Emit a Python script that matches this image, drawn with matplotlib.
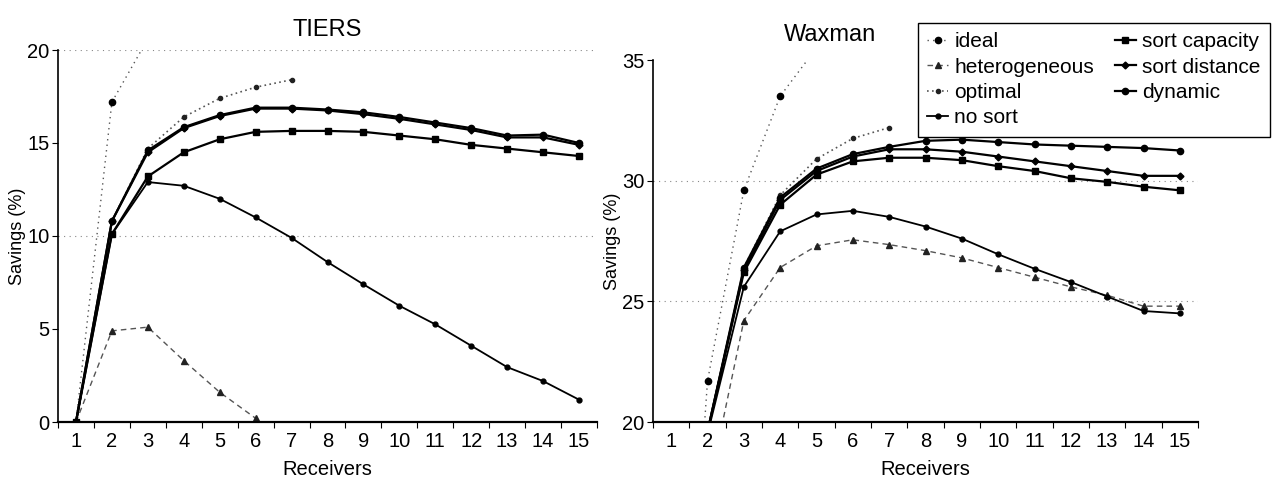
import matplotlib.pyplot as plt
import numpy as np

plt.rcParams['font.family'] = ['Liberation Sans', 'DejaVu Sans']

receivers = np.arange(1, 16)

# TIERS
t_ideal = [0, 17.2, 20.6]
t_hetero = [0, 4.9, 5.1, 3.3, 1.6, 0.2]
t_optimal = [0, 10.8, 14.7, 16.4, 17.4, 18.0, 18.4]
t_nosort = [0, 10.1, 12.9, 12.7, 12.0, 11.0, 9.9, 8.6, 7.4, 6.25, 5.25, 4.1, 2.95, 2.2, 1.2]
t_capacity = [0, 10.1, 13.2, 14.5, 15.2, 15.6, 15.65, 15.65, 15.6, 15.4, 15.2, 14.9, 14.7, 14.5, 14.3]
t_distance = [0, 10.8, 14.5, 15.8, 16.45, 16.85, 16.85, 16.75, 16.55, 16.3, 16.0, 15.7, 15.3, 15.3, 14.9]
t_dynamic = [0, 10.8, 14.6, 15.85, 16.5, 16.9, 16.9, 16.8, 16.65, 16.4, 16.1, 15.8, 15.4, 15.45, 15.0]

# Waxman
w_ideal = [0, 21.7, 29.6, 33.5, 35.5]
w_hetero = [0, 17.0, 24.2, 26.4, 27.3, 27.55, 27.35, 27.1, 26.8, 26.4, 26.0, 25.6, 25.25, 24.8, 24.8]
w_optimal = [0, 19.5, 26.4, 29.4, 30.9, 31.75, 32.2]
w_nosort = [0, 19.5, 25.6, 27.9, 28.6, 28.75, 28.5, 28.1, 27.6, 26.95, 26.35, 25.8, 25.2, 24.6, 24.5]
w_capacity = [0, 19.6, 26.2, 29.0, 30.25, 30.8, 30.95, 30.95, 30.85, 30.6, 30.4, 30.1, 29.95, 29.75, 29.6]
w_distance = [0, 19.6, 26.3, 29.2, 30.4, 31.0, 31.3, 31.3, 31.2, 31.0, 30.8, 30.6, 30.4, 30.2, 30.2]
w_dynamic = [0, 19.6, 26.4, 29.3, 30.5, 31.1, 31.4, 31.65, 31.7, 31.6, 31.5, 31.45, 31.4, 31.35, 31.25]

labels = ['ideal', 'heterogeneous', 'optimal', 'no sort',
          'sort capacity', 'sort distance', 'dynamic']

styles = {
    'ideal': dict(color='#555555', ls=(0, (1, 3)), lw=1.0, marker='o', ms=4.5, mfc='black', mec='black'),
    'heterogeneous': dict(color='#555555', ls=(0, (4, 3)), lw=1.0, marker='^', ms=4, mfc='#222222', mec='#222222'),
    'optimal': dict(color='#555555', ls=(0, (1, 2)), lw=1.2, marker='o', ms=3, mfc='#222222', mec='#222222'),
    'no sort': dict(color='black', ls='-', lw=1.3, marker='o', ms=3.5),
    'sort capacity': dict(color='black', ls='-', lw=1.6, marker='s', ms=4),
    'sort distance': dict(color='black', ls='-', lw=1.6, marker='D', ms=3.5),
    'dynamic': dict(color='black', ls='-', lw=1.6, marker='o', ms=4.5),
}

fig = plt.figure(figsize=(12.75, 4.83), dpi=100)
ax1 = fig.add_axes([58 / 1275, 1 - 422 / 483, 539 / 1275, 372 / 483])
ax2 = fig.add_axes([653 / 1275, 1 - 422 / 483, 545 / 1275, 362 / 483])

panels = [
    (ax1, [t_ideal, t_hetero, t_optimal, t_nosort, t_capacity, t_distance, t_dynamic],
     (0, 20), [0, 5, 10, 15, 20], (0.53, 15.47), [10, 20]),
    (ax2, [w_ideal, w_hetero, w_optimal, w_nosort, w_capacity, w_distance, w_dynamic],
     (20, 35), [20, 25, 30, 35], (0.73, 15.5), [25, 30]),
]

handles = []
for ax, series, ylim, yticks, xlim, grid in panels:
    for g in grid:
        ax.axhline(g, color='#888888', lw=0.8, ls=(0, (1, 4)), zorder=0)
    hs = []
    for name, vals in zip(labels, series):
        h, = ax.plot(receivers[:len(vals)], vals, label=name, **styles[name])
        hs.append(h)
    handles = hs
    ax.set_ylim(*ylim)
    ax.set_xlim(*xlim)
    ax.set_yticks(yticks)
    ax.set_xticks(np.arange(0.5, 16, 1))
    ax.set_xticklabels([])
    ax.set_xticks(receivers, minor=True)
    ax.set_xticklabels([str(r) for r in receivers], minor=True)
    ax.tick_params(axis='x', which='major', length=4, direction='out')
    ax.tick_params(axis='x', which='minor', length=0, labelsize=14.5, pad=7)
    ax.tick_params(axis='y', length=4, labelsize=14.5, pad=2)
    for s in ['top', 'right']:
        ax.spines[s].set_visible(False)
    ax.spines['left'].set_linewidth(1.2)
    ax.spines['bottom'].set_linewidth(1.6)
    ax.set_xlabel('Receivers', fontsize=14.5, labelpad=7)
    ax.set_ylabel('Savings (%)', fontsize=13, labelpad=1)

ax1.set_title('TIERS', fontsize=17, pad=10)
ax2.text(0.325, 1.04, 'Waxman', transform=ax2.transAxes, ha='center', va='bottom', fontsize=17)

fig.legend(handles, labels, ncol=2, loc='upper left',
           bbox_to_anchor=(918 / 1275, 1 - 23 / 483), fontsize=15,
           frameon=True, fancybox=False, edgecolor='black', framealpha=1,
           handlelength=1.0, handletextpad=0.3, columnspacing=1.0,
           labelspacing=0.3, borderpad=0.45, borderaxespad=0)

fig.savefig('out.png', dpi=100)
